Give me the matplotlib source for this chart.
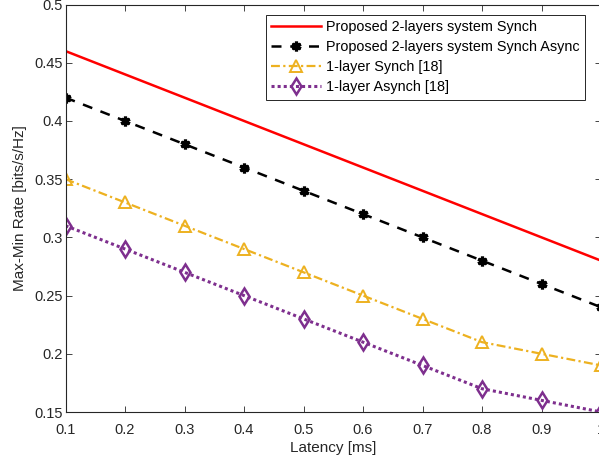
import matplotlib.pyplot as plt

plt.rcParams['font.family'] = ['Liberation Sans', 'DejaVu Sans']

latency = [0.1, 0.2, 0.3, 0.4, 0.5, 0.6, 0.7, 0.8, 0.9, 1.0]
two_layer_synch = [0.46, 0.44, 0.42, 0.40, 0.38, 0.36, 0.34, 0.32, 0.30, 0.28]
two_layer_async = [0.42, 0.40, 0.38, 0.36, 0.34, 0.32, 0.30, 0.28, 0.26, 0.24]
one_layer_synch = [0.35, 0.33, 0.31, 0.29, 0.27, 0.25, 0.23, 0.21, 0.20, 0.19]
one_layer_async = [0.31, 0.29, 0.27, 0.25, 0.23, 0.21, 0.19, 0.17, 0.16, 0.15]

fig = plt.figure(figsize=(5.99, 4.68), dpi=100)
ax = fig.add_axes([65.5 / 599, 1 - 412 / 468, (601 - 65.5) / 599, (412 - 4.5) / 468])

ax.plot(latency, two_layer_synch, color='#ff0000', lw=1.8,
        label='Proposed 2-layers system Synch')
ax.plot(latency, two_layer_async, color='black', lw=1.8, ls=(0, (4, 3.5)),
        marker=(6, 2, 0), ms=7, mew=2.3,
        label='Proposed 2-layers system Synch Async')
ax.plot(latency, one_layer_synch, color='#EDB120', lw=1.6, ls=(0, (4, 1.5, 1, 1.5)),
        marker='^', ms=8, mfc='none', mew=1.4,
        label='1-layer Synch [18]')
ax.plot(latency, one_layer_async, color='#7E2F8E', lw=2.2, ls=(0, (1, 1)),
        marker='d', ms=8.5, mfc='none', mew=1.8,
        label='1-layer Asynch [18]')

ax.set_xlim(0.1, 1.0)
ax.set_ylim(0.15, 0.5)
ax.set_xticks(latency)
ax.set_xticklabels(['0.1', '0.2', '0.3', '0.4', '0.5', '0.6', '0.7', '0.8', '0.9', '1'])
ax.set_yticks([0.15, 0.2, 0.25, 0.3, 0.35, 0.4, 0.45, 0.5])
ax.set_yticklabels(['0.15', '0.2', '0.25', '0.3', '0.35', '0.4', '0.45', '0.5'])
ax.tick_params(direction='in', top=True, right=True, labelsize=10.5,
               colors='#262626', length=4, width=0.6)
ax.tick_params(axis='x', pad=8)
ax.tick_params(axis='y', pad=2)
for s in ax.spines.values():
    s.set_linewidth(0.8)
    s.set_color('#262626')

ax.set_xlabel('Latency [ms]', fontsize=11, color='#262626', labelpad=3)
ax.set_ylabel('Max-Min Rate [bits/s/Hz]', fontsize=11, color='#262626', labelpad=5)

leg = ax.legend(loc='upper right', bbox_to_anchor=((585 - 65.5) / 535.5, 1 - 10 / 407.5),
                fontsize=10.4, fancybox=False, framealpha=1, edgecolor='#262626',
                handlelength=3.4, borderaxespad=0, handletextpad=0.35,
                labelspacing=0.42, borderpad=0.4)
leg.get_frame().set_linewidth(0.7)

fig.savefig('out.png', dpi=100)
